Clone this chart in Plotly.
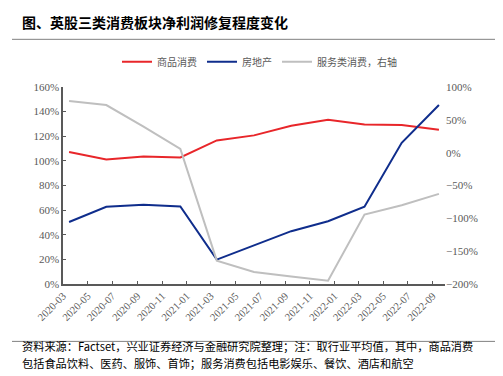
import plotly.graph_objects as go

dates = ["2020-03-16", "2020-06-16", "2020-09-16", "2020-12-16", "2021-03-16", "2021-06-16",
         "2021-09-16", "2021-12-16", "2022-03-16", "2022-06-16", "2022-09-16"]
goods = [107.2, 101.1, 103.6, 102.8, 116.6, 120.7, 128.6, 133.4, 129.6, 129.1, 125.3]
realestate = [50.4, 62.7, 64.3, 62.9, 19.8, 31.2, 42.9, 51.0, 62.7, 114.7, 145.4]
services = [78.6, 72.5, 39.5, 5.8, -164.4, -181.8, -188.5, -194.9, -94.3, -80.0, -62.7]

names = ["商品消费", "房地产", "服务类消费，右轴"]
colors = ["#E8262A", "#0F2D8C", "#BFBFBF"]

title_text = "图、英股三类消费板块净利润修复程度变化"
note1 = "资料来源：Factset，兴业证券经济与金融研究院整理；注：取行业平均值，其中，商品消费"
note2 = "包括食品饮料、医药、服饰、首饰；服务消费包括电影娱乐、餐饮、酒店和航空"

CJK = "Noto Sans CJK SC"
SERIF = "'Liberation Serif', 'DejaVu Serif', serif"
TXT = "#595959"

fig = go.Figure()
fig.add_trace(go.Scatter(x=dates, y=goods, name=names[0], mode="lines",
                         line=dict(color=colors[0], width=2)))
fig.add_trace(go.Scatter(x=dates, y=realestate, name=names[1], mode="lines",
                         line=dict(color=colors[1], width=2)))
fig.add_trace(go.Scatter(x=dates, y=services, name=names[2], mode="lines", yaxis="y2",
                         line=dict(color=colors[2], width=2)))

L, R, T, B = 55, 437, 79.3, 276.0
W, H = 503, 376


def px(x):
    return (x - L) / (R - L)


def py(y):
    return (B - y) / (B - T)


fig.update_layout(
    width=W, height=H, autosize=False,
    margin=dict(l=L, r=W - R, t=T, b=H - B, pad=0),
    paper_bgcolor="white", plot_bgcolor="white",
    font=dict(family=SERIF, size=10.5, color=TXT),
    showlegend=True,
    legend=dict(orientation="h", x=px(251.5), xanchor="center", y=py(54), yanchor="middle",
                font=dict(family=CJK, size=10, color=TXT), itemwidth=30,
                bgcolor="rgba(0,0,0,0)", tracegroupgap=0),
    xaxis=dict(type="date", range=["2020-03-01", "2022-10-01"], tick0="2020-03-01", dtick="M2",
               tickformat="%Y-%m", tickangle=-45, showgrid=False, zeroline=False,
               showline=True, linecolor="#595959", linewidth=1.5,
               ticks="inside", ticklen=3, tickcolor="#595959",
               tickfont=dict(family=SERIF, size=10.5, color=TXT)),
    yaxis=dict(range=[0, 160], dtick=20, ticksuffix="%", showgrid=False, zeroline=False,
               showline=True, linecolor="#595959", linewidth=1.5,
               ticks="inside", ticklen=3, tickcolor="#595959",
               tickfont=dict(family=SERIF, size=11, color=TXT)),
    yaxis2=dict(range=[-200, 100], dtick=50, ticksuffix="%", overlaying="y", side="right",
                showgrid=False, zeroline=False, showline=False, ticks="",
                tickfont=dict(family=SERIF, size=11, color=TXT)),
    shapes=[
        dict(type="line", xref="paper", yref="paper", x0=px(4), x1=px(496), y0=py(31.7), y1=py(31.7),
             line=dict(color="#808080", width=1)),
        dict(type="line", xref="paper", yref="paper", x0=px(4), x1=px(496), y0=py(333.3), y1=py(333.3),
             line=dict(color="#808080", width=1)),
    ],
    annotations=[
        dict(text="<b>" + title_text + "</b>", xref="paper", yref="paper", x=px(12), y=py(14),
             xanchor="left", yanchor="middle", showarrow=False,
             font=dict(family=CJK, size=14, color="#000000")),
        dict(text=note1, xref="paper", yref="paper", x=px(12), y=py(338),
             xanchor="left", yanchor="middle", showarrow=False,
             font=dict(family=CJK, size=11.2, color="#000000")),
        dict(text=note2, xref="paper", yref="paper", x=px(12), y=py(355),
             xanchor="left", yanchor="middle", showarrow=False,
             font=dict(family=CJK, size=11.2, color="#000000")),
    ],
)

fig.write_html("out.html")
